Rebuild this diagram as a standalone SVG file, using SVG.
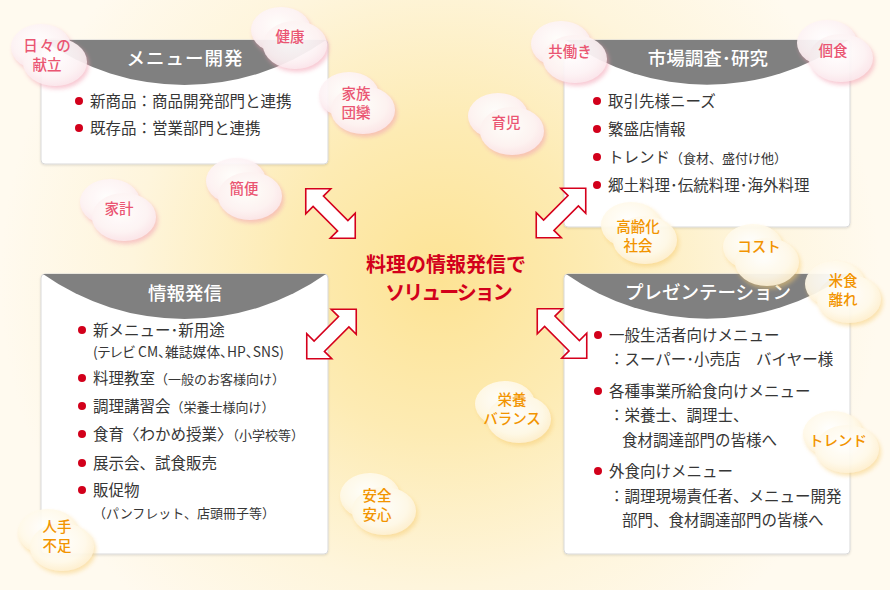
<svg xmlns="http://www.w3.org/2000/svg" width="890" height="590" viewBox="0 0 890 590">
<defs>
<radialGradient id="bg" gradientUnits="userSpaceOnUse" cx="440" cy="280" r="440">
<stop offset="0" stop-color="#fde394"/>
<stop offset="0.35" stop-color="#fdebb3"/>
<stop offset="0.7" stop-color="#fef5dc"/>
<stop offset="1" stop-color="#fffaef"/>
</radialGradient>
<radialGradient id="gP" cx="0.45" cy="0.4" r="0.6">
<stop offset="0" stop-color="#ffffff"/>
<stop offset="0.7" stop-color="#fdf3f5"/>
<stop offset="1" stop-color="#fbe5ea"/>
</radialGradient>
<radialGradient id="gO" cx="0.45" cy="0.4" r="0.6">
<stop offset="0" stop-color="#ffffff"/>
<stop offset="0.7" stop-color="#fff9e9"/>
<stop offset="1" stop-color="#fef0d0"/>
</radialGradient>
<filter id="shP" x="-25%" y="-25%" width="160%" height="160%">
<feGaussianBlur in="SourceAlpha" stdDeviation="2"/>
<feOffset dx="1.5" dy="2.5" result="b"/>
<feFlood flood-color="#f2a0b2" flood-opacity="0.6"/>
<feComposite in2="b" operator="in"/>
<feMerge><feMergeNode/><feMergeNode in="SourceGraphic"/></feMerge>
</filter>
<filter id="shO" x="-25%" y="-25%" width="160%" height="160%">
<feGaussianBlur in="SourceAlpha" stdDeviation="2"/>
<feOffset dx="1.5" dy="2.5" result="b"/>
<feFlood flood-color="#f7cc70" flood-opacity="0.55"/>
<feComposite in2="b" operator="in"/>
<feMerge><feMergeNode/><feMergeNode in="SourceGraphic"/></feMerge>
</filter>
<filter id="shB" x="-5%" y="-5%" width="110%" height="110%">
<feGaussianBlur in="SourceAlpha" stdDeviation="1"/>
<feOffset dx="0" dy="1" result="b"/>
<feFlood flood-color="#000" flood-opacity="0.12"/>
<feComposite in2="b" operator="in"/>
<feMerge><feMergeNode/><feMergeNode in="SourceGraphic"/></feMerge>
</filter>
<g id="cloudP" filter="url(#shP)" opacity="0.93">
<ellipse cx="-8" cy="-8" rx="30" ry="23" fill="url(#gP)"/>
<ellipse cx="6" cy="7" rx="32" ry="24" fill="url(#gP)"/>
</g>
<g id="cloudO" filter="url(#shO)" opacity="0.93">
<ellipse cx="-8" cy="-8" rx="30" ry="23" fill="url(#gO)"/>
<ellipse cx="6" cy="7" rx="32" ry="24" fill="url(#gO)"/>
</g>
<path id="arrow" d="M -35 0 L -17.3 -17.7 L -17.3 -7.3 L 17.3 -7.3 L 17.3 -17.7 L 35 0 L 17.3 17.7 L 17.3 7.3 L -17.3 7.3 L -17.3 17.7 Z"/>
</defs>
<style>
text{font-family:"Noto Sans CJK JP","Noto Sans",sans-serif;}
.box{fill:#ffffff;stroke:#d9d9d9;stroke-width:1;}
.hdr{fill:#808080;}
.ht{fill:#ffffff;font-size:18.5px;text-anchor:middle;font-weight:500;}
.bt{fill:#363636;font-size:15.5px;}
.sm{font-size:13px;}
.pa{font-feature-settings:"palt";font-size:13.8px;}
.dot{fill:#d2001b;}
.ct{fill:#d2001b;font-size:20px;font-weight:bold;text-anchor:middle;}
.cp{fill:#ea5572;font-size:14.5px;text-anchor:middle;font-weight:500;}
.co{fill:#f29400;font-size:14.5px;text-anchor:middle;font-weight:500;}
.arr{fill:#ffffff;stroke:#d5001c;stroke-width:1.6;stroke-linejoin:miter;}
</style>
<rect x="0" y="0" width="890" height="590" fill="url(#bg)"/>

<g id="node-menu">
<rect class="box" x="41" y="40" width="287" height="124" rx="4" filter="url(#shB)"/>
<path class="hdr" d="M 43 40 L 326 40 A 245 245 0 0 1 43 40 Z"/>
<text class="ht" x="185" y="65" letter-spacing="1">メニュー開発</text>
<circle class="dot" cx="79" cy="101" r="4"/>
<text class="bt" x="90" y="107">新商品：商品開発部門と連携</text>
<circle class="dot" cx="79" cy="128" r="4"/>
<text class="bt" x="90" y="134">既存品：営業部門と連携</text>
</g>

<g id="node-market">
<rect class="box" x="564" y="40" width="286" height="187" rx="4" filter="url(#shB)"/>
<path class="hdr" d="M 566 40 L 848 40 A 245 245 0 0 1 566 40 Z"/>
<text class="ht" x="708" y="65">市場調査･研究</text>
<circle class="dot" cx="597" cy="101" r="4"/>
<text class="bt" x="608" y="107">取引先様ニーズ</text>
<circle class="dot" cx="597" cy="129" r="4"/>
<text class="bt" x="608" y="135">繁盛店情報</text>
<circle class="dot" cx="597" cy="157" r="4"/>
<text class="bt" x="608" y="163">トレンド<tspan class="sm">（食材、盛付け他）</tspan></text>
<circle class="dot" cx="597" cy="185" r="4"/>
<text class="bt" x="608" y="191">郷土料理･伝統料理･海外料理</text>
</g>

<g id="node-info">
<rect class="box" x="41" y="274" width="287" height="280" rx="4" filter="url(#shB)"/>
<path class="hdr" d="M 43 274 L 326 274 A 245 245 0 0 1 43 274 Z"/>
<text class="ht" x="185" y="300">情報発信</text>
<circle class="dot" cx="82" cy="330" r="4"/>
<text class="bt" x="93" y="336">新メニュー･新用途</text>
<text class="bt pa" x="93" y="357">(テレビ CM、雑誌媒体、HP、SNS)</text>
<circle class="dot" cx="82" cy="378" r="4"/>
<text class="bt" x="93" y="384">料理教室<tspan class="sm">（一般のお客様向け）</tspan></text>
<circle class="dot" cx="82" cy="406" r="4"/>
<text class="bt" x="93" y="412">調理講習会<tspan class="sm">（栄養士様向け）</tspan></text>
<circle class="dot" cx="82" cy="434" r="4"/>
<text class="bt" x="93" y="440">食育〈わかめ授業〉<tspan class="sm">（小学校等）</tspan></text>
<circle class="dot" cx="82" cy="463" r="4"/>
<text class="bt" x="93" y="469">展示会、試食販売</text>
<circle class="dot" cx="82" cy="490" r="4"/>
<text class="bt" x="93" y="496">販促物</text>
<text class="bt sm" x="93" y="518">（パンフレット、店頭冊子等）</text>
</g>

<g id="node-present">
<rect class="box" x="564" y="274" width="286" height="280" rx="4" filter="url(#shB)"/>
<path class="hdr" d="M 566 274 L 848 274 A 245 245 0 0 1 566 274 Z"/>
<text class="ht" x="708" y="299">プレゼンテーション</text>
<circle class="dot" cx="598" cy="335" r="4"/>
<text class="bt" x="609" y="341">一般生活者向けメニュー</text>
<text class="bt" x="609" y="365">：スーパー･小売店　バイヤー様</text>
<circle class="dot" cx="598" cy="391" r="4"/>
<text class="bt" x="609" y="397">各種事業所給食向けメニュー</text>
<text class="bt" x="609" y="421">：栄養士、調理士、</text>
<text class="bt" x="622" y="446">食材調達部門の皆様へ</text>
<circle class="dot" cx="598" cy="471" r="4"/>
<text class="bt" x="609" y="477">外食向けメニュー</text>
<text class="bt" x="609" y="502">：調理現場責任者、メニュー開発</text>
<text class="bt" x="622" y="526">部門、食材調達部門の皆様へ</text>
</g>

<g id="connectors">
<use href="#arrow" class="arr" transform="translate(330.5 213.5) rotate(45)"/>
<use href="#arrow" class="arr" transform="translate(561 213) rotate(-45)"/>
<use href="#arrow" class="arr" transform="translate(331.5 334) rotate(-45)"/>
<use href="#arrow" class="arr" transform="translate(562 333.5) rotate(45)"/>
</g>

<g id="node-center">
<text class="ct" x="446" y="272">料理の情報発信で</text>
<text class="ct" x="448" y="300" letter-spacing="-2">ソリューション</text>
</g>

<g id="cloud-kondate"><use href="#cloudP" transform="translate(49 55)"/><text class="cp" x="48" y="51" letter-spacing="2">日々の</text><text class="cp" x="47" y="70">献立</text></g>
<g id="cloud-kenko"><use href="#cloudP" transform="translate(289 38)"/><text class="cp" x="290" y="42">健康</text></g>
<g id="cloud-kazoku"><use href="#cloudP" transform="translate(357 103)"/><text class="cp" x="356" y="99">家族</text><text class="cp" x="356" y="118">団欒</text></g>
<g id="cloud-kanben"><use href="#cloudP" transform="translate(244 189)"/><text class="cp" x="244" y="194">簡便</text></g>
<g id="cloud-kakei"><use href="#cloudP" transform="translate(118 210)"/><text class="cp" x="119" y="214">家計</text></g>
<g id="cloud-tomobataraki"><use href="#cloudP" transform="translate(569 52)"/><text class="cp" x="570" y="57">共働き</text></g>
<g id="cloud-koshoku"><use href="#cloudP" transform="translate(835 51)"/><text class="cp" x="833" y="56">個食</text></g>
<g id="cloud-ikuji"><use href="#cloudP" transform="translate(506 124)"/><text class="cp" x="506" y="128">育児</text></g>

<g id="cloud-koreika"><use href="#cloudO" transform="translate(639 233)"/><text class="co" x="638" y="232">高齢化</text><text class="co" x="638" y="251">社会</text></g>
<g id="cloud-cost"><use href="#cloudO" transform="translate(761 255)"/><text class="co" x="759" y="252">コスト</text></g>
<g id="cloud-beishoku"><use href="#cloudO" transform="translate(843 292)"/><text class="co" x="843" y="286">米食</text><text class="co" x="843" y="305">離れ</text></g>
<g id="cloud-eiyo"><use href="#cloudO" transform="translate(513 412)"/><text class="co" x="512" y="405">栄養</text><text class="co" x="512" y="424">バランス</text></g>
<g id="cloud-trend"><use href="#cloudO" transform="translate(841 442)"/><text class="co" x="838" y="446">トレンド</text></g>
<g id="cloud-anzen"><use href="#cloudO" transform="translate(378 504)"/><text class="co" x="377" y="501">安全</text><text class="co" x="377" y="520">安心</text></g>
<g id="cloud-hitode"><use href="#cloudO" transform="translate(56 540)"/><text class="co" x="57" y="532">人手</text><text class="co" x="57" y="551">不足</text></g>
</svg>
